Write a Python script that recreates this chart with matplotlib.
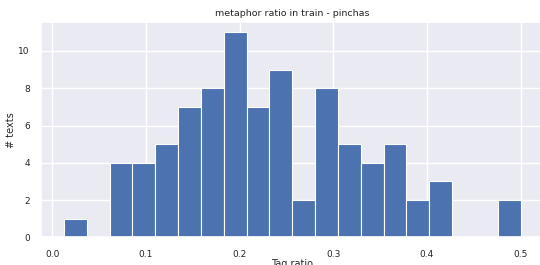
import matplotlib
matplotlib.use("Agg")
import matplotlib.pyplot as plt
import seaborn as sns
import numpy as np

sns.set_theme(style="darkgrid")
plt.rcParams['font.family'] = ['DejaVu Sans']

bin_start = 0.0125
bin_end = 0.5
n_bins = 20
counts = [1, 0, 4, 4, 5, 7, 8, 11, 7, 9, 2, 8, 5, 4, 5, 2, 3, 0, 0, 2]
title = "metaphor ratio in train - pinchas"
xlabel = "Tag ratio"
ylabel = "# texts"

edges = np.linspace(bin_start, bin_end, n_bins + 1)
centers = (edges[:-1] + edges[1:]) / 2

fig = plt.figure(figsize=(5.4, 2.65), dpi=100)
ax = fig.add_axes([0.076, 0.104, 0.9305, 0.813])
ax.hist(centers, bins=edges, weights=counts, color="#4C72B0", edgecolor="white", linewidth=0.8)
ax.set_xticks([0.0, 0.1, 0.2, 0.3, 0.4, 0.5])
ax.set_yticks([0, 2, 4, 6, 8, 10])
ax.tick_params(axis="x", labelsize=6.5, pad=3)
ax.tick_params(axis="y", labelsize=6.5, pad=2)
ax.set_title(title, fontsize=6.8, pad=4)
ax.set_xlabel(xlabel, fontsize=7, labelpad=0)
ax.set_ylabel(ylabel, fontsize=7, labelpad=2)
fig.savefig("out.png", dpi=100)
